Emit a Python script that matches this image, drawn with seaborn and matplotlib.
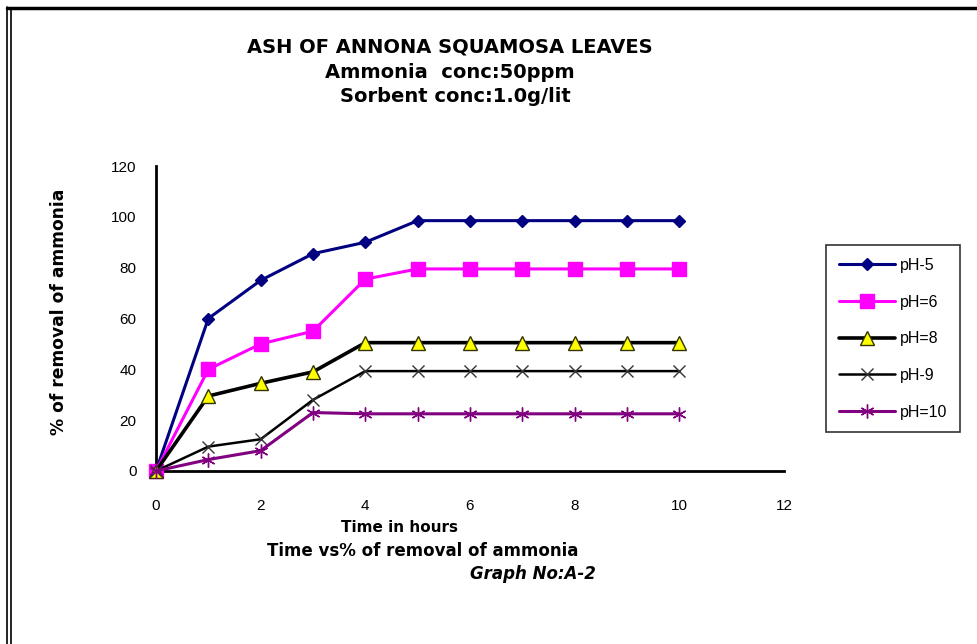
import matplotlib
matplotlib.use("Agg")
import matplotlib.pyplot as plt
from matplotlib.lines import Line2D
import seaborn as sns
import pandas as pd

time_hours = [0, 1, 2, 3, 4, 5, 6, 7, 8, 9, 10]
ph5 = [0, 60, 75, 85.5, 90, 98.5, 98.5, 98.5, 98.5, 98.5, 98.5]
ph6 = [0, 40, 50, 55, 75.5, 79.5, 79.5, 79.5, 79.5, 79.5, 79.5]
ph8 = [0, 29.5, 34.5, 39, 50.5, 50.5, 50.5, 50.5, 50.5, 50.5, 50.5]
ph9 = [0, 9.6, 12.5, 28, 39.3, 39.3, 39.3, 39.3, 39.3, 39.3, 39.3]
ph10 = [0, 4.5, 8, 23, 22.5, 22.5, 22.5, 22.5, 22.5, 22.5, 22.5]
series_labels = ["pH-5", "pH=6", "pH=8", "pH-9", "pH=10"]
x_ticks = [0, 2, 4, 6, 8, 10, 12]
y_ticks = [0, 20, 40, 60, 80, 100, 120]

sns.set_theme(style="white")
plt.rcParams["font.family"] = ["Liberation Sans", "DejaVu Sans"]
plt.rcParams["text.color"] = "black"
plt.rcParams["axes.labelcolor"] = "black"
plt.rcParams["xtick.color"] = "black"
plt.rcParams["ytick.color"] = "black"

frames = []
for lab, vals in zip(series_labels, [ph5, ph6, ph8, ph9, ph10]):
    frames.append(pd.DataFrame({"time": time_hours, "removal": vals, "series": lab}))
df = pd.concat(frames, ignore_index=True)

styles = {
    "pH-5": dict(color="#000080", marker="D", markersize=6.5, mfc="#000080", mec="#000080", lw=2.2, mew=1),
    "pH=6": dict(color="#FF00FF", marker="s", markersize=10, mfc="#FF00FF", mec="#FF00FF", lw=2.2, mew=1),
    "pH=8": dict(color="black", marker="^", markersize=10, mfc="#FFFF00", mec="#333300", lw=2.6, mew=1),
    "pH-9": dict(color="black", marker="x", markersize=9, mfc="none", mec="#333333", lw=1.8, mew=1),
    "pH=10": dict(color="#800080", marker=(6, 2, 0), markersize=10, mfc="none", mec="#800080", lw=2.2, mew=1),
}

fig = plt.figure(figsize=(9.78, 6.44), dpi=100)
ax = fig.add_axes([156 / 978, 1 - 471 / 644, (784 - 156) / 978, (471 - 166) / 644])

for lab in series_labels:
    st = styles[lab]
    sub = df[df["series"] == lab]
    sns.lineplot(data=sub, x="time", y="removal", ax=ax, color=st["color"], linewidth=st["lw"],
                 marker=st["marker"], markersize=st["markersize"], markerfacecolor=st["mfc"],
                 markeredgecolor=st["mec"], markeredgewidth=st["mew"], label=lab,
                 clip_on=False, zorder=3)

ax.set_xlim(0, 12)
ax.set_ylim(0, 120)
ax.set_xticks(x_ticks)
ax.set_yticks(y_ticks)
ax.set_xticklabels([str(t) for t in x_ticks], fontsize=11)
ax.set_yticklabels([str(t) for t in y_ticks], fontsize=11)
for side in ["top", "right"]:
    ax.spines[side].set_visible(False)
for side in ["left", "bottom"]:
    ax.spines[side].set_color("black")
    ax.spines[side].set_linewidth(2)
ax.tick_params(axis="y", direction="out", length=6, width=2, color="black", pad=8)
ax.tick_params(axis="x", direction="out", length=6, width=2, color="black", pad=14)
ax.grid(False)
ax.set_xlabel("")
ax.set_ylabel("% of removal of ammonia", fontsize=12.3, fontweight="bold", family="DejaVu Sans")
ax.yaxis.set_label_coords(-0.14, 0.521)

leg = ax.legend(loc="upper left", bbox_to_anchor=(826 / 978, 1 - 245 / 644), bbox_transform=fig.transFigure,
                frameon=True, fancybox=False, edgecolor="black", fontsize=11.5, labelspacing=1.36,
                handlelength=3.5, handletextpad=0.35, borderpad=0.8, borderaxespad=0)
leg.get_frame().set_linewidth(1.2)

title_font = dict(family="DejaVu Sans", fontweight="bold", fontsize=14, ha="center", va="center")
fig.text(450 / 978, 1 - 47 / 644, "ASH OF ANNONA SQUAMOSA LEAVES", **title_font)
fig.text(450 / 978, 1 - 72 / 644, "Ammonia  conc:50ppm", **title_font)
fig.text(455 / 978, 1 - 97 / 644, "Sorbent conc:1.0g/lit", **title_font)

sub_font = dict(family="DejaVu Sans", fontweight="bold", fontsize=12, ha="center", va="center")
fig.text(400 / 978, 1 - 528 / 644, "Time in hours", family="DejaVu Sans", fontweight="bold",
         fontsize=11, ha="center", va="center")
fig.text(423 / 978, 1 - 551 / 644, "Time vs% of removal of ammonia", **sub_font)
fig.text(533 / 978, 1 - 574 / 644, "Graph No:A-2", style="italic", **sub_font)

# outer border (top and double left lines)
fig.add_artist(Line2D([7 / 978, 1], [1 - 7.5 / 644, 1 - 7.5 / 644], transform=fig.transFigure, color="black", lw=2.5))
fig.add_artist(Line2D([7.5 / 978, 7.5 / 978], [0, 1 - 7 / 644], transform=fig.transFigure, color="black", lw=1.2))
fig.add_artist(Line2D([10.5 / 978, 10.5 / 978], [0, 1 - 9 / 644], transform=fig.transFigure, color="black", lw=1.2))

fig.savefig("out.png", dpi=100, facecolor="white")
